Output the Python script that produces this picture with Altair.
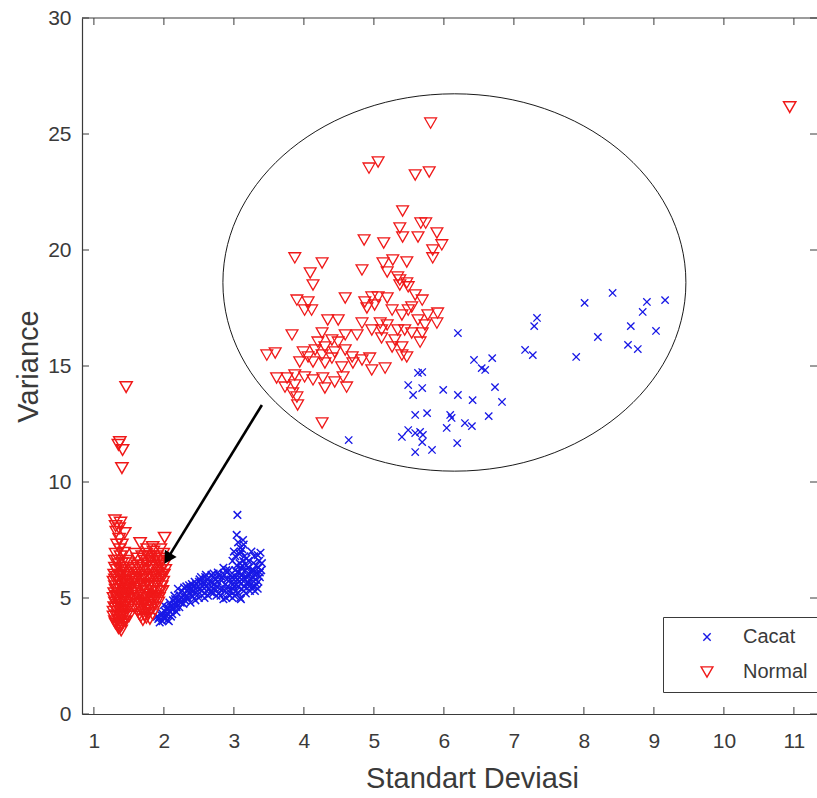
import altair as alt
import pandas as pd

# ---- main scatter (Standart Deviasi, Variance) ----
cacat_main = [
    (1.92, 4.10), (1.98, 4.00), (2.05, 4.05), (1.95, 4.30), (2.02, 4.40), (2.10, 4.20),
    (2.12, 4.50), (2.00, 4.70), (2.08, 4.80), (2.18, 4.60), (2.20, 4.90), (2.15, 5.10),
    (2.25, 5.00), (2.30, 5.20), (2.28, 4.75), (2.35, 5.40), (2.40, 5.10), (2.42, 5.50),
    (2.48, 5.30), (2.50, 5.70), (2.55, 5.50), (2.58, 5.20), (2.62, 5.80), (2.65, 5.40),
    (2.70, 5.90), (2.72, 5.60), (2.75, 5.10), (2.78, 6.00), (2.80, 5.40), (2.82, 5.75),
    (2.85, 4.95), (2.88, 5.60), (2.90, 6.10), (2.92, 5.30), (2.95, 5.80), (2.98, 5.00),
    (3.00, 5.50), (3.02, 6.20), (3.05, 5.80), (3.06, 5.20), (3.08, 6.50), (3.10, 5.60),
    (3.12, 6.00), (3.14, 5.30), (3.15, 6.80), (3.18, 5.90), (3.20, 6.30), (3.22, 5.50),
    (3.24, 6.10), (3.25, 5.80), (3.28, 6.50), (3.30, 6.00), (3.32, 5.60), (3.35, 6.30),
    (3.38, 6.95), (3.05, 8.58), (3.04, 7.72), (3.13, 7.50), (3.09, 7.16), (3.00, 7.00),
    (3.18, 6.70), (2.98, 6.60), (2.60, 6.00), (2.45, 4.90), (2.20, 5.40), (2.85, 6.30),
    (3.10, 4.95), (3.30, 5.30), (2.70, 5.20),
    (1.90, 4.20), (1.94, 3.95), (1.99, 4.20), (2.03, 4.25), (2.07, 4.00), (2.08, 4.45),
    (2.12, 4.30), (2.15, 4.70), (2.05, 4.60), (2.18, 4.40), (2.22, 4.60), (2.13, 4.90),
    (2.24, 4.80), (2.26, 5.30), (2.30, 4.90), (2.32, 5.50), (2.34, 5.00), (2.37, 5.20),
    (2.38, 4.80), (2.40, 5.60), (2.43, 5.30), (2.46, 5.60), (2.50, 5.00), (2.52, 5.40),
    (2.53, 5.90), (2.56, 5.70), (2.58, 5.00), (2.60, 5.50), (2.63, 5.10), (2.66, 5.70),
    (2.68, 6.00), (2.70, 5.40), (2.73, 5.80), (2.76, 5.50), (2.77, 6.10), (2.79, 5.20),
    (2.83, 5.90), (2.84, 5.40), (2.86, 6.00), (2.89, 5.00), (2.90, 5.80), (2.91, 5.50),
    (2.93, 6.20), (2.96, 5.30), (2.97, 5.90), (2.99, 5.60), (3.01, 5.10), (3.03, 5.90),
    (3.04, 6.40), (3.06, 5.50), (3.07, 6.10), (3.09, 5.00), (3.10, 6.30), (3.11, 5.80),
    (3.13, 6.60), (3.15, 5.50), (3.16, 6.20), (3.17, 5.20), (3.19, 6.00), (3.20, 5.70),
    (3.21, 6.60), (3.23, 5.30), (3.26, 6.20), (3.27, 5.50), (3.29, 6.80), (3.31, 5.80),
    (3.33, 6.10), (3.34, 5.40), (3.36, 6.60), (3.37, 5.90), (3.39, 6.20), (3.06, 7.40),
    (3.10, 7.00), (3.02, 6.80), (3.14, 7.30), (3.25, 7.00),
    (1.93, 4.15), (1.97, 4.35), (2.01, 4.10), (2.04, 4.50), (2.06, 4.30), (2.10, 4.65),
    (2.14, 4.55), (2.16, 4.95), (2.19, 4.75), (2.21, 5.15), (2.23, 4.95), (2.27, 5.10),
    (2.29, 5.45), (2.31, 5.05), (2.33, 5.30), (2.36, 5.55), (2.39, 5.35), (2.41, 5.05),
    (2.44, 5.70), (2.47, 5.45), (2.49, 5.15), (2.51, 5.80), (2.54, 5.30), (2.57, 5.60),
    (2.59, 5.90), (2.61, 5.30), (2.64, 5.60), (2.67, 5.25), (2.69, 5.65), (2.71, 6.05),
    (2.74, 5.35), (2.77, 5.70), (2.80, 5.95), (2.81, 5.10), (2.87, 5.30), (2.89, 6.20),
    (2.94, 5.10), (2.95, 6.00), (2.98, 5.40), (3.00, 5.80), (3.03, 5.30), (3.05, 6.10),
    (3.08, 5.70), (3.11, 5.40), (3.12, 6.40), (3.16, 5.80), (3.18, 6.40), (3.21, 5.60),
    (3.23, 6.00), (3.26, 5.90), (3.28, 6.20), (3.30, 5.50), (3.32, 6.40), (3.35, 5.70),
    (3.37, 6.10), (3.40, 6.50), (3.34, 6.85), (3.12, 7.10), (3.08, 6.90),
]
normal_main = [
    (1.30, 8.35), (1.38, 8.25), (1.32, 7.85), (1.36, 7.55), (1.40, 7.30), (1.43, 6.95),
    (1.33, 6.60), (1.30, 6.30), (1.38, 6.20), (1.45, 6.10), (1.33, 5.90), (1.42, 5.80),
    (1.50, 5.70), (1.30, 5.50), (1.37, 5.40), (1.46, 5.35), (1.33, 5.10), (1.41, 5.00),
    (1.49, 4.95), (1.30, 4.80), (1.36, 4.70), (1.44, 4.60), (1.34, 4.40), (1.40, 4.30),
    (1.47, 4.25), (1.35, 4.05), (1.42, 3.95), (1.38, 3.75), (1.39, 3.60), (1.31, 4.55),
    (1.48, 5.60), (1.35, 6.45), (1.29, 5.20), (1.45, 4.00), (1.52, 5.10), (1.52, 6.30),
    (1.66, 7.37), (2.01, 7.60), (1.84, 7.20), (1.95, 7.10), (1.75, 6.90), (1.90, 6.80),
    (1.62, 6.70), (1.80, 6.60), (1.98, 6.60), (1.70, 6.40), (1.88, 6.40), (1.58, 6.20),
    (1.78, 6.20), (1.95, 6.20), (1.65, 6.00), (1.85, 6.00), (1.60, 5.80), (1.74, 5.80),
    (1.92, 5.80), (1.68, 5.60), (1.82, 5.50), (1.97, 5.50), (1.58, 5.40), (1.75, 5.30),
    (1.90, 5.30), (1.64, 5.10), (1.82, 5.05), (1.56, 5.00), (1.72, 4.90), (1.88, 4.95),
    (1.62, 4.75), (1.78, 4.70), (1.68, 4.50), (1.85, 4.60), (1.72, 4.25), (1.65, 4.30),
    (1.78, 4.35), (1.70, 4.05), (2.00, 6.00), (1.93, 5.00),
    (1.28, 4.20), (1.31, 3.90), (1.34, 3.80), (1.37, 4.20), (1.43, 4.40), (1.48, 4.50),
    (1.29, 4.60), (1.33, 4.90), (1.39, 4.80), (1.46, 4.80), (1.51, 4.70), (1.28, 5.00),
    (1.36, 5.20), (1.43, 5.20), (1.50, 5.30), (1.31, 5.35), (1.40, 5.55), (1.45, 5.50),
    (1.28, 5.70), (1.35, 5.70), (1.39, 6.00), (1.47, 5.90), (1.29, 6.00), (1.42, 6.30),
    (1.49, 6.50), (1.31, 6.90), (1.37, 7.10), (1.33, 7.30), (1.44, 7.80), (1.31, 8.10),
    (1.36, 8.00), (1.40, 3.85), (1.36, 3.90), (1.52, 5.90), (1.50, 4.20),
    (1.58, 4.60), (1.60, 5.20), (1.63, 5.50), (1.66, 4.80), (1.67, 5.80), (1.70, 6.20),
    (1.72, 5.50), (1.74, 4.60), (1.76, 5.00), (1.77, 6.50), (1.80, 5.80), (1.81, 4.50),
    (1.83, 6.30), (1.84, 5.30), (1.86, 4.80), (1.87, 6.70), (1.89, 5.60), (1.91, 6.10),
    (1.92, 4.80), (1.94, 6.50), (1.96, 5.80), (1.98, 5.30), (1.99, 6.90), (2.00, 6.40),
    (1.62, 6.40), (1.69, 6.80), (1.76, 7.10), (1.59, 6.90), (1.64, 4.50), (1.71, 4.80),
    (1.80, 4.10), (1.75, 4.15), (1.88, 5.10), (1.97, 6.00), (1.54, 5.60), (1.57, 5.80),
    (1.61, 6.10), (1.85, 7.00), (1.67, 4.20),
    (1.30, 4.00), (1.33, 4.25), (1.38, 4.45), (1.45, 4.70), (1.32, 5.05), (1.38, 5.10),
    (1.44, 5.05), (1.30, 5.80), (1.36, 5.95), (1.44, 5.75), (1.50, 6.00), (1.32, 6.20),
    (1.40, 6.50), (1.46, 6.60), (1.30, 6.60), (1.38, 6.80), (1.34, 4.60), (1.41, 4.60),
    (1.47, 5.10), (1.35, 3.70), (1.41, 4.15), (1.28, 4.40), (1.49, 5.45), (1.42, 5.35),
    (1.60, 4.90), (1.62, 5.60), (1.66, 5.30), (1.69, 5.00), (1.70, 5.90), (1.73, 6.00),
    (1.74, 5.15), (1.78, 5.50), (1.79, 6.80), (1.82, 5.90), (1.83, 4.90), (1.86, 5.50),
    (1.88, 6.00), (1.90, 5.70), (1.91, 6.60), (1.94, 5.90), (1.95, 5.30), (1.97, 6.70),
    (1.99, 5.70), (2.02, 6.20), (1.64, 6.30), (1.72, 6.60), (1.68, 4.70), (1.76, 4.45),
    (1.84, 4.30), (1.56, 5.30),
    (1.46, 14.09), (1.37, 11.72), (1.41, 11.38), (1.40, 10.60), (1.35, 11.60),
    (10.94, 26.16),
]

# ---- points shown inside the magnified ellipse ----
cacat_inset = [
    (6.20, 16.42), (6.43, 15.26), (6.69, 15.34), (6.54, 14.91), (6.59, 14.83),
    (5.63, 14.70), (5.69, 14.74), (5.49, 14.18), (5.69, 14.05), (5.56, 13.75),
    (5.99, 13.97), (6.20, 13.75), (6.41, 13.53), (6.73, 14.09), (6.83, 13.45),
    (5.59, 12.89), (5.76, 12.97), (6.09, 12.89), (6.11, 12.76), (6.64, 12.84),
    (6.04, 12.33), (6.30, 12.54), (6.40, 12.41), (5.40, 11.94), (5.49, 12.24),
    (5.59, 12.11), (5.66, 12.16), (5.70, 12.03), (5.69, 11.72), (6.19, 11.68),
    (5.59, 11.29), (5.83, 11.38), (4.64, 11.81),
    (8.41, 18.15), (8.01, 17.72), (8.90, 17.76), (9.16, 17.84), (8.84, 17.33),
    (7.33, 17.07), (7.29, 16.72), (8.67, 16.72), (9.03, 16.51), (8.20, 16.25),
    (7.16, 15.69), (7.27, 15.47), (7.89, 15.39), (8.63, 15.91), (8.77, 15.73),
]
normal_inset = [
    (5.81, 25.47), (5.06, 23.79), (4.93, 23.53), (5.59, 23.23), (5.79, 23.36),
    (5.41, 21.68), (5.37, 20.95), (5.67, 21.16), (5.74, 21.16), (5.90, 20.73),
    (5.41, 20.56), (5.63, 20.56), (4.86, 20.43), (5.14, 20.30), (5.97, 20.22),
    (5.84, 20.00), (5.84, 19.66), (3.87, 19.66), (4.26, 19.44), (4.09, 19.01),
    (4.13, 18.49), (4.83, 19.14), (5.13, 19.44), (5.27, 19.57), (5.47, 19.48),
    (5.19, 19.05), (5.37, 18.71), (5.47, 18.58), (5.34, 18.84), (5.37, 18.49),
    (5.49, 18.41), (3.90, 17.84), (4.06, 17.76), (4.59, 17.93), (4.87, 17.76),
    (4.97, 17.97), (5.06, 17.97), (5.19, 17.93), (5.59, 18.06), (5.69, 17.84),
    (4.01, 17.41), (4.11, 17.41), (4.90, 17.50), (5.01, 17.63), (5.26, 17.41),
    (5.49, 17.41), (5.54, 17.54), (5.40, 17.20), (5.77, 17.20), (5.91, 17.28),
    (4.34, 16.98), (4.49, 16.98), (4.83, 16.85), (5.09, 16.85), (5.19, 16.77),
    (5.63, 16.98), (5.73, 16.77), (5.90, 16.85), (4.97, 16.55), (5.11, 16.55),
    (5.34, 16.55), (5.44, 16.55), (5.54, 16.42), (5.69, 16.42), (3.83, 16.34),
    (4.26, 16.42), (4.59, 16.34), (4.76, 16.34), (5.11, 16.21), (5.30, 16.12),
    (5.66, 16.03), (4.20, 16.03), (4.40, 16.12), (4.49, 16.03), (4.16, 15.69),
    (4.30, 15.82), (4.44, 15.60), (4.59, 15.69), (5.26, 15.82), (5.40, 15.82),
    (3.47, 15.47), (3.59, 15.56), (3.99, 15.60), (4.06, 15.39), (4.26, 15.47),
    (4.40, 15.34), (4.69, 15.39), (4.83, 15.26), (4.94, 15.34), (5.40, 15.47),
    (5.47, 15.39), (3.94, 15.17), (4.13, 15.17), (4.30, 15.13), (4.54, 14.96),
    (4.70, 15.13), (5.16, 14.91), (4.97, 14.83), (3.61, 14.48), (3.76, 14.48),
    (3.87, 14.61), (4.01, 14.53), (4.13, 14.40), (4.27, 14.48), (4.44, 14.31),
    (4.56, 14.53), (3.73, 14.09), (3.87, 14.18), (4.30, 14.05), (4.61, 14.09),
    (3.84, 13.84), (3.90, 13.66), (3.91, 13.32), (4.26, 12.54),
]

x_ticks = [1, 2, 3, 4, 5, 6, 7, 8, 9, 10, 11]
y_ticks = [0, 5, 10, 15, 20, 25, 30]
x_domain = [0.83, 11.33]
y_domain = [0, 30]
classes = ["Cacat", "Normal"]

ellipse_center = [(6.15, 18.60)]
arrow_line = [(3.40, 13.32, 2.06, 6.74)]
arrow_head = [(2.053, 6.70)]

# ---- styling ----
W, H = 735, 696
BLUE = "#1818e6"
RED = "#f01818"
AX = "#3a3a3a"
TXT = "#3a3a3a"
FONT = "Liberation Sans"
XPATH = "M-0.62,-0.62L0.62,0.62M-0.62,0.62L0.62,-0.62"
ELLIPSE = "M-1,0A1,0.815,0,1,0,1,0A1,0.815,0,1,0,-1,0Z"


def pts(pairs, label):
    return pd.DataFrame({"sd": [p[0] for p in pairs],
                         "var": [p[1] for p in pairs],
                         "kelas": label})


main_df = pd.concat([pts(cacat_main, "Cacat"), pts(normal_main, "Normal")], ignore_index=True)
inset_df = pd.concat([pts(cacat_inset, "Cacat"), pts(normal_inset, "Normal")], ignore_index=True)

xs = alt.Scale(domain=x_domain, nice=False, zero=False)
ys = alt.Scale(domain=y_domain, nice=False, zero=False)

x_axis = alt.Axis(values=x_ticks, title="Standart Deviasi", grid=False, ticks=False,
                  domainColor=AX, domainWidth=1.2, labelFont=FONT, labelFontSize=21,
                  labelColor=TXT, labelPadding=16, titleFont=FONT, titleFontSize=29,
                  titleFontWeight="normal", titleColor=TXT, titleX=390, titleY=64,
                  titleBaseline="middle", titleAlign="center", labelFlush=False)
y_axis = alt.Axis(values=y_ticks, title="Variance", grid=False, ticks=False,
                  domainColor=AX, domainWidth=1.2, labelFont=FONT, labelFontSize=21,
                  labelColor=TXT, labelPadding=11, titleFont=FONT, titleFontSize=29,
                  titleFontWeight="normal", titleColor=TXT, titleX=-54, titleY=348,
                  titleAngle=270, titleBaseline="middle", titleAlign="center",
                  labelFlush=False)

legend = alt.Legend(title=None, orient="none", legendX=581, legendY=599,
                    fillColor="white", strokeColor=AX, padding=10,
                    symbolOffset=24, labelOffset=26, labelFont=FONT, labelFontSize=20,
                    labelColor=TXT, rowPadding=15, symbolSize=140,
                    symbolStrokeWidth=1.4, cornerRadius=0)

color = alt.Color("kelas:N", scale=alt.Scale(domain=classes, range=[BLUE, RED]), legend=legend)
shape = alt.Shape("kelas:N", scale=alt.Scale(domain=classes, range=[XPATH, "triangle-down"]), legend=legend)

X = alt.X("sd:Q", scale=xs, axis=x_axis)
Y = alt.Y("var:Q", scale=ys, axis=y_axis)

main_pts = alt.Chart(main_df).mark_point(filled=False, size=150, strokeWidth=1.5, opacity=1).encode(
    x=X, y=Y, color=color, shape=shape)

ell_df = pd.DataFrame({"sd": [c[0] for c in ellipse_center], "var": [c[1] for c in ellipse_center]})
ellipse = alt.Chart(ell_df).mark_point(shape=ELLIPSE, size=463 * 463, filled=True, fill="white",
                                       stroke="black", strokeWidth=0.9, opacity=1).encode(x=X, y=Y)

inset_pts = alt.Chart(inset_df).mark_point(filled=False, size=140, strokeWidth=1.3, opacity=1).encode(
    x=X, y=Y, color=color, shape=shape)

arr_df = pd.DataFrame({"sd": [a[0] for a in arrow_line], "var": [a[1] for a in arrow_line],
                       "sd2": [a[2] for a in arrow_line], "var2": [a[3] for a in arrow_line]})
arrow = alt.Chart(arr_df).mark_rule(color="black", strokeWidth=2.6).encode(
    x=X, y=Y, x2="sd2:Q", y2="var2:Q")
head_df = pd.DataFrame({"sd": [h[0] for h in arrow_head], "var": [h[1] for h in arrow_head]})
head = alt.Chart(head_df).mark_point(shape="triangle-up", angle=211.5, size=190, filled=True,
                                     color="black", opacity=1).encode(x=X, y=Y)

xt_df = pd.DataFrame({"sd": x_ticks})
yt_df = pd.DataFrame({"var": y_ticks})
bottom_ticks = alt.Chart(xt_df).mark_rule(color=AX, strokeWidth=1).encode(
    x=X, y=alt.value(H), y2=alt.value(H - 7))
top_ticks = alt.Chart(xt_df).mark_rule(color=AX, strokeWidth=1).encode(
    x=X, y=alt.value(0), y2=alt.value(7))
left_ticks = alt.Chart(yt_df).mark_rule(color=AX, strokeWidth=1).encode(
    y=Y, x=alt.value(0), x2=alt.value(7))
right_ticks = alt.Chart(yt_df).mark_rule(color=AX, strokeWidth=1).encode(
    y=Y, x=alt.value(W), x2=alt.value(W - 7))
top_border = alt.Chart(pd.DataFrame({"k": [0]})).mark_rule(color=AX, strokeWidth=1.2).encode(
    x=alt.value(0), x2=alt.value(W), y=alt.value(0))

chart = alt.layer(
    main_pts, ellipse, inset_pts, arrow, head,
    bottom_ticks, top_ticks, left_ticks, right_ticks, top_border,
).properties(
    width=W, height=H,
    padding={"left": 82, "top": 18, "right": 0, "bottom": 84},
    autosize=alt.AutoSizeParams(type="none"),
    background="white",
).configure_view(stroke=None)

chart.save("out.html", embed_options={"renderer": "svg", "actions": False})
